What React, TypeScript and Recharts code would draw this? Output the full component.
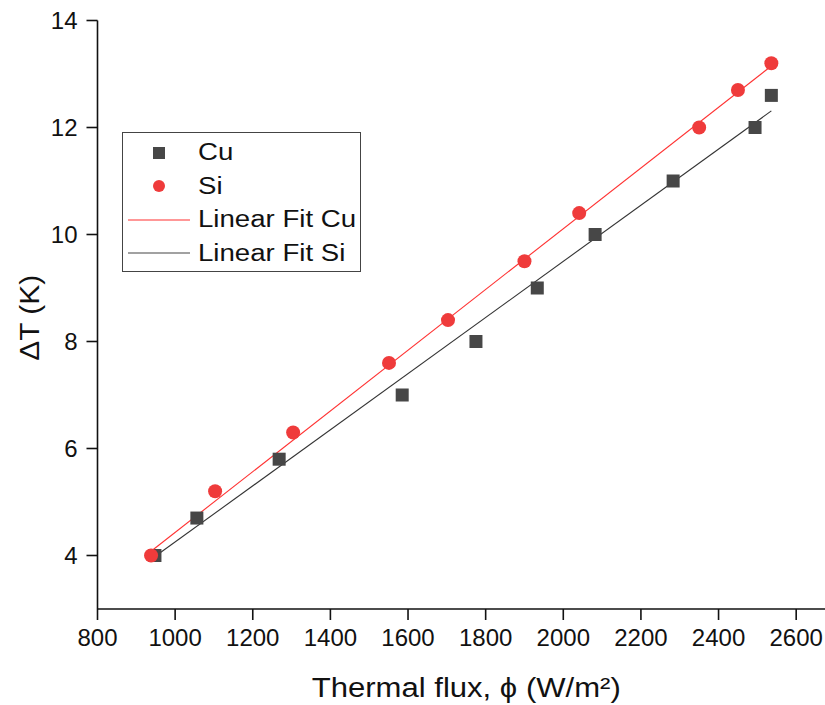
import React from 'react';
import { ScatterChart, Scatter, XAxis, YAxis, Legend } from 'recharts';

const cuX = [948, 1056, 1268, 1585, 1775, 1933, 2082, 2283, 2494, 2536];
const cuY = [4.0, 4.7, 5.8, 7.0, 8.0, 9.0, 10.0, 11.0, 12.0, 12.6];
const siX = [938, 1103, 1304, 1551, 1703, 1900, 2041, 2350, 2450, 2536];
const siY = [4.0, 5.2, 6.3, 7.6, 8.4, 9.5, 10.4, 12.0, 12.7, 13.2];
const fitRedX = [938, 2536];
const fitRedY = [4.08, 13.15];
const fitBlackX = [948, 2536];
const fitBlackY = [3.98, 12.31];

const xTicks = [800, 1000, 1200, 1400, 1600, 1800, 2000, 2200, 2400, 2600];
const xMinor = [900, 1100, 1300, 1500, 1700, 1900, 2100, 2300, 2500, 2700];
const yTicks = [4, 6, 8, 10, 12, 14];
const yMinor = [3, 5, 7, 9, 11, 13];

const xTitle = 'Thermal flux, \u03d5 (W/m\u00b2)';
const yTitle = '\u0394T (K)';

const zip = (xs: number[], ys: number[]) => xs.map((x, i) => ({ x, y: ys[i] }));
const cuData = zip(cuX, cuY);
const siData = zip(siX, siY);
const fitRed = zip(fitRedX, fitRedY);
const fitBlack = zip(fitBlackX, fitBlackY);

const GRAY = '#474747';
const RED = '#ef3b3b';
const FONT = '"Liberation Sans", Arial, sans-serif';
const TICK_FS = 24;

const Square = (p: any) => (
  <rect x={p.cx - 6.5} y={p.cy - 6.5} width={13} height={13} fill={GRAY} />
);
const Dot = (p: any) => <circle cx={p.cx} cy={p.cy} r={7} fill={RED} />;
const Empty = () => <g />;

const XTick = (p: any) => (
  <text
    x={p.x}
    y={p.y}
    dy="0.72em"
    textAnchor="middle"
    fill="#111"
    fontSize={TICK_FS}
    fontFamily={FONT}
  >
    {p.payload.value}
  </text>
);

const YTick = (p: any) => (
  <text
    x={p.x}
    y={p.y}
    dy="0.36em"
    textAnchor="end"
    fill="#111"
    fontSize={TICK_FS}
    fontFamily={FONT}
  >
    {p.payload.value}
  </text>
);

const legendItems = [
  { name: 'Cu', kind: 'square' },
  { name: 'Si', kind: 'circle' },
  { name: 'Linear Fit Cu', kind: 'redline' },
  { name: 'Linear Fit Si', kind: 'blackline' },
];

const LegendBox = () => (
  <div
    style={{
      width: 239,
      height: 140,
      border: '1.5px solid #444',
      background: '#fff',
      fontFamily: FONT,
      fontSize: 23,
      color: '#111',
      boxSizing: 'border-box',
      paddingTop: 3,
    }}
  >
    {legendItems.map((it) => (
      <div key={it.name} style={{ display: 'flex', alignItems: 'center', height: 33.5 }}>
        <svg width={72} height={20} style={{ marginLeft: 3, flex: 'none' }}>
          {it.kind === 'square' && <rect x={27} y={4} width={12} height={12} fill={GRAY} />}
          {it.kind === 'circle' && <circle cx={33} cy={10} r={6} fill={RED} />}
          {it.kind === 'redline' && <line x1={2} x2={64} y1={10} y2={10} stroke="#ff3030" strokeWidth={1.2} />}
          {it.kind === 'blackline' && <line x1={2} x2={64} y1={10} y2={10} stroke="#444" strokeWidth={1.2} />}
        </svg>
        <span
          style={{
            display: 'inline-block',
            whiteSpace: 'nowrap',
            transform: 'scaleX(1.2)',
            transformOrigin: 'left center',
          }}
        >
          {it.name}
        </span>
      </div>
    ))}
  </div>
);

const XTitle = (props: any) => {
  const vb = props.viewBox || {};
  const cx = vb.x + vb.width / 2;
  const y = vb.y + vb.height - 8;
  return (
    <text
      x={cx}
      y={y}
      textAnchor="middle"
      fill="#111"
      fontSize={27}
      fontFamily={FONT}
      textLength={309}
      lengthAdjust="spacingAndGlyphs"
    >
      {xTitle}
    </text>
  );
};

const YTitle = (props: any) => {
  const vb = props.viewBox || {};
  const cx = vb.x + 19;
  const cy = vb.y + vb.height / 2 + 3;
  return (
    <text
      x={cx}
      y={cy}
      transform={`rotate(-90, ${cx}, ${cy})`}
      textAnchor="middle"
      fill="#111"
      fontSize={27}
      fontFamily={FONT}
      textLength={86}
      lengthAdjust="spacingAndGlyphs"
    >
      {yTitle}
    </text>
  );
};

export default function App() {
  return (
    <div
      style={{
        position: 'absolute',
        left: 0,
        top: 0,
        width: 825,
        height: 705,
        overflow: 'hidden',
        background: '#fff',
        fontFamily: FONT,
      }}
    >
      <ScatterChart
        width={850}
        height={705}
        margin={{ top: 20.5, right: 15, bottom: 0, left: 20 }}
      >
        <XAxis
          xAxisId="main"
          type="number"
          dataKey="x"
          domain={[800, 2700]}
          allowDataOverflow
          ticks={xTicks}
          interval={0}
          tickSize={11}
          tickMargin={9}
          height={96}
          tick={XTick}
          stroke="#111"
          strokeWidth={1.6}
          label={<XTitle />}
        />
        <XAxis
          xAxisId="minor"
          type="number"
          dataKey="x"
          domain={[800, 2700]}
          allowDataOverflow
          ticks={xMinor}
          interval={0}
          tickSize={5}
          tick={false}
          axisLine={false}
          height={0}
          stroke="#111"
          strokeWidth={1.4}
        />
        <XAxis
          xAxisId="top"
          orientation="top"
          type="number"
          dataKey="x"
          domain={[800, 2700]}
          allowDataOverflow
          tick={false}
          tickLine={false}
          height={0}
          stroke="#111"
          strokeWidth={2}
        />
        <YAxis
          yAxisId="main"
          type="number"
          dataKey="y"
          domain={[3, 14]}
          allowDataOverflow
          ticks={yTicks}
          interval={0}
          tickSize={11}
          tickMargin={9}
          width={77.5}
          tick={YTick}
          stroke="#111"
          strokeWidth={1.6}
          label={<YTitle />}
        />
        <YAxis
          yAxisId="minor"
          type="number"
          dataKey="y"
          domain={[3, 14]}
          allowDataOverflow
          ticks={yMinor}
          interval={0}
          tickSize={5}
          tick={false}
          axisLine={false}
          width={0}
          stroke="#111"
          strokeWidth={1.4}
        />
        <Legend
          layout="vertical"
          align="center"
          verticalAlign="middle"
          wrapperStyle={{ position: 'absolute', left: 122, top: 132, width: 239, height: 140 }}
          content={() => <LegendBox />}
        />
        <Scatter
          name="Linear Fit Si"
          data={fitBlack}
          xAxisId="main"
          yAxisId="main"
          line={{ stroke: '#333', strokeWidth: 1.1 }}
          shape={Empty}
          isAnimationActive={false}
        />
        <Scatter
          name="Linear Fit Cu"
          data={fitRed}
          xAxisId="main"
          yAxisId="main"
          line={{ stroke: '#ff3030', strokeWidth: 1.1 }}
          shape={Empty}
          isAnimationActive={false}
        />
        <Scatter name="Cu" data={cuData} xAxisId="main" yAxisId="main" shape={Square} isAnimationActive={false} />
        <Scatter name="Si" data={siData} xAxisId="main" yAxisId="main" shape={Dot} isAnimationActive={false} />
      </ScatterChart>
    </div>
  );
}
